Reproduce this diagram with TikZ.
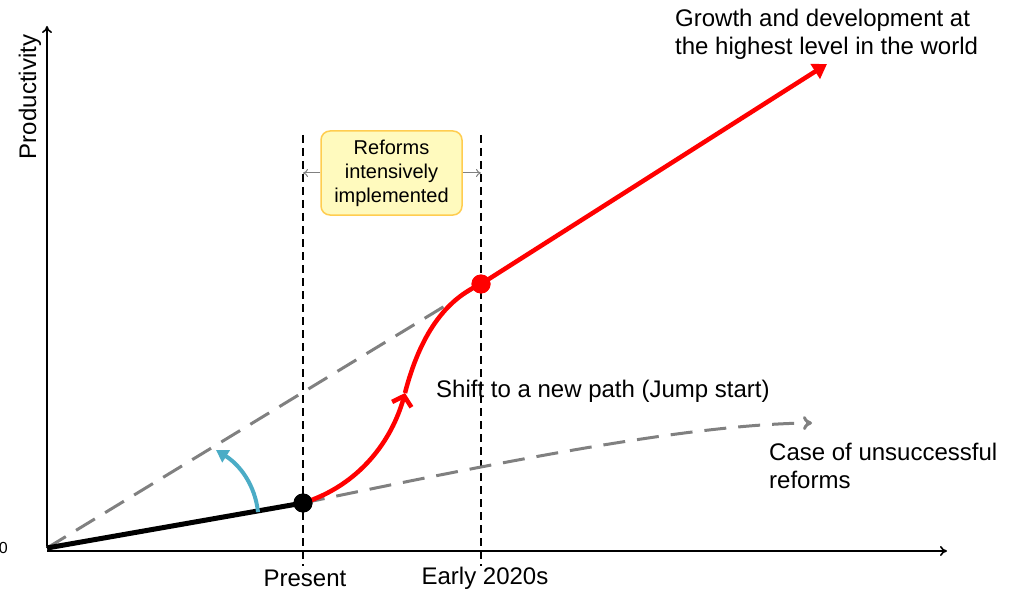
\documentclass[tikz,border=0pt]{standalone}
\usepackage{fontspec}
\setmainfont{Liberation Sans}
\usetikzlibrary{arrows.meta}
\definecolor{redline}{RGB}{255,0,0}
\definecolor{grayline}{RGB}{128,128,128}
\definecolor{teal2}{RGB}{75,172,198}
\definecolor{boxfill}{RGB}{255,250,190}
\definecolor{boxdraw}{RGB}{255,205,80}
\tikzset{
  axis/.style={line width=1.6pt,-{To[length=7pt,width=10pt]}},
  vdash/.style={line width=2pt,dash pattern=on 8pt off 5pt},
  graydash/.style={grayline,line width=3pt,dash pattern=on 22pt off 12pt},
  redpath/.style={redline,line width=4.5pt},
  lbl/.style={font=\fontsize{24}{28}\selectfont,inner sep=0pt},
  boxlbl/.style={font=\fontsize{20}{24}\selectfont,align=center,fill=boxfill,draw=boxdraw,line width=1.5pt,rounded corners=9pt,minimum width=141pt,minimum height=84pt,inner sep=2pt},
  dotb/.style={circle,fill=black,minimum size=19pt,inner sep=0pt},
  dotr/.style={circle,fill=redline,minimum size=19pt,inner sep=0pt},
  dim/.style={grayline,line width=1pt,-{To[length=5pt,width=8pt]}}
}
\begin{document}
\begin{tikzpicture}[x=1pt,y=-1pt]
\useasboundingbox (0,0) rectangle (1010,591);
% coordinates
\coordinate (O) at (47,548);
\coordinate (Ytop) at (47,26);
\coordinate (Xend) at (947,551);
\coordinate (Xstart) at (47,551);
\coordinate (Pv1) at (303,135);
\coordinate (Pv2) at (303,566);
\coordinate (Ev1) at (481,135);
\coordinate (Ev2) at (481,566);
\coordinate (Mid) at (405,393);
\coordinate (Gend) at (827,64);
\coordinate (Uend) at (812,423);
\coordinate (Bs) at (258,512);
\coordinate (Be) at (216,450);
% vertical dashed lines
\draw[vdash] (Pv1) -- (Pv2);
\draw[vdash] (Ev1) -- (Ev2);
% axes
\draw[axis] (O) -- (Ytop);
\draw[axis] (Xstart) -- (Xend);
\node[anchor=east,font=\fontsize{16}{18}\selectfont,inner sep=0pt] (zero) at (8,548) {0};
% points
\node[dotb] (P) at (303,503) {};
\node[dotr] (E) at (481,284) {};
% gray dashed lines
\draw[graydash] (O) -- (E.center);
\draw[graydash,-{To[length=9pt,width=14pt]}] (P.center) .. controls (500,462) and (690,424) .. (Uend);
% black line
\draw[line width=5pt] (O) -- (P.center);
% red curve
\draw[redpath,-{Straight Barb[length=9pt,width=20pt]}] (P.center) .. controls (360,485) and (392,440) .. (Mid);
\draw[redpath] (Mid) .. controls (420,335) and (445,300) .. (E.center);
\draw[redpath,-{Triangle[length=14pt,width=17pt]}] (E.center) -- (Gend);
\node[dotb] at (P) {};
\node[dotr] at (E) {};
% blue arrow
\draw[teal2,line width=4pt,-{Triangle[length=12pt,width=14pt]}] (Bs) .. controls (255,485) and (240,465) .. (Be);
% box
\node[boxlbl] (box) at (391.5,173) {Reforms\\intensively\\implemented};
\draw[dim] (box.west) -- (P|-box.west);
\draw[dim] (box.east) -- (E|-box.east);
% labels
\node[lbl,rotate=90] (prod) at (30,97) {Productivity};
\node[lbl,anchor=north west,align=left] (growth) at (675,9) {Growth and development at\\the highest level in the world};
\node[lbl,anchor=west] (shift) at (436,391) {Shift to a new path (Jump start)};
\node[lbl,anchor=north west,align=left] (case) at (769,443) {Case of unsuccessful\\reforms};
\node[lbl] (present) at (305,578) {Present};
\node[lbl] (early) at (485,578) {Early 2020s};
\end{tikzpicture}
\end{document}
